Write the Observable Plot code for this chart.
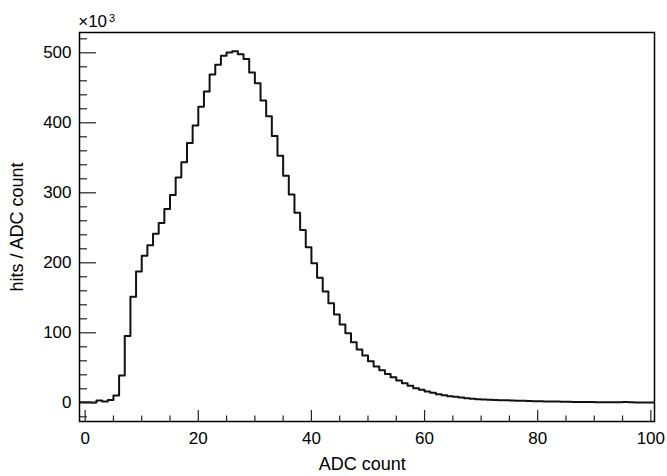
<!DOCTYPE html>
<html>
<head>
<meta charset="utf-8">
<script src="https://cdn.jsdelivr.net/npm/d3@7"></script>
<script src="https://cdn.jsdelivr.net/npm/@observablehq/plot@0.6"></script>
<style>
  body { margin: 0; background: #fff; }
</style>
</head>
<body>
<div id="chart"></div>
<script>
// Histogram: bins of width 1 starting at ADC count -1; values in thousands of hits
const firstBinEdge = -1;
const binWidth = 1;
const hitsK = [
  0.8, 0.8, 0.3, 3.3, 2.0, 4.0, 10.5, 39, 95.5, 151.5,
  187.6, 210, 225, 241.4, 256.8, 276.8, 297, 322, 343.7, 371,
  396, 423, 444.7, 469, 483, 495.7, 500.4, 502.3, 498, 491,
  472, 456.6, 432, 409.4, 381, 352.8, 324.3, 297.6, 271.5, 247,
  222.3, 199.4, 178.6, 159, 142.3, 126.1, 111.9, 99.4, 86.6, 76.1,
  67.6, 59.4, 51.9, 46.5, 41.3, 36.6, 31.9, 28, 24.3, 20.9,
  18.6, 16.1, 14.3, 12.3, 10.9, 9.4, 8.6, 7.6, 6.6, 5.7,
  5.0, 4.6, 4.3, 4.0, 3.7, 3.5, 3.3, 3.0, 2.8, 2.6,
  2.4, 2.2, 2.0, 1.8, 1.7, 1.5, 1.4, 1.3, 1.2, 1.1,
  1.0, 0.9, 0.85, 0.8, 0.75, 0.7, 1.0, 0.7, 0.6, 0.6,
  0.55, 0.5
];

const xTicks = [0, 20, 40, 60, 80, 100];
const xMinorTicks = [5, 10, 15, 25, 30, 35, 45, 50, 55, 65, 70, 75, 85, 90, 95];
const yTicks = [0, 100, 200, 300, 400, 500];
const yMinorTicks = [-20, 20, 40, 60, 80, 120, 140, 160, 180, 220, 240, 260, 280,
                     320, 340, 360, 380, 420, 440, 460, 480, 520];

const xTitle = "ADC count";
const yTitle = "hits / ADC count";
const exponentBase = "×10";
const exponent = "3";

// Build step points (left edge of each bin, plus closing edge)
const points = hitsK.map((v, i) => ({x: firstBinEdge + i * binWidth, y: v}));
points.push({x: firstBinEdge + hitsK.length * binWidth, y: hitsK[hitsK.length - 1]});

const W = 667, H = 476;
const mL = 79, mR = 13, mT = 32, mB = 55;
const frameW = W - mL - mR, frameH = H - mT - mB;

const chart = Plot.plot({
  width: W,
  height: H,
  marginLeft: mL,
  marginRight: mR,
  marginTop: mT,
  marginBottom: mB,
  style: {fontFamily: "'Liberation Sans', Arial, Helvetica, sans-serif", fontSize: "17px", color: "black", background: "white"},
  x: {domain: [-1, 100.65]},
  y: {domain: [-26.7, 529]},
  marks: [
    Plot.line(points, {x: "x", y: "y", curve: "step-after", stroke: "#111", strokeWidth: 2, clip: true}),
    Plot.tickY(yTicks, {y: d => d, insetRight: frameW - 17, stroke: "#222", strokeWidth: 1.2}),
    Plot.tickY(yMinorTicks, {y: d => d, insetRight: frameW - 8, stroke: "#222", strokeWidth: 1.2}),
    Plot.tickX(xTicks, {x: d => d, insetTop: frameH - 11, stroke: "#222", strokeWidth: 1.2}),
    Plot.tickX(xMinorTicks, {x: d => d, insetTop: frameH - 5.5, stroke: "#222", strokeWidth: 1.2}),
    Plot.axisX(xTicks, {tickSize: 0, tickPadding: 10, fontSize: 17, label: null}),
    Plot.axisY(yTicks, {tickSize: 0, tickPadding: 8, fontSize: 17, label: null}),
    Plot.frame({stroke: "black", strokeWidth: 1.5}),
    Plot.text([xTitle], {frameAnchor: "bottom", textAnchor: "middle", lineAnchor: "middle", dx: -4.8, dy: 42.5, fontSize: 18, fill: "black"}),
    Plot.text([yTitle], {frameAnchor: "left", textAnchor: "middle", lineAnchor: "middle", rotate: -90, dx: -61.8, dy: 0, fontSize: 18, fill: "black"}),
    Plot.text([exponentBase], {frameAnchor: "top-left", textAnchor: "start", lineAnchor: "middle", dx: -1.3, dy: -10.9, fontSize: 17, fill: "black"}),
    Plot.text([exponent], {frameAnchor: "top-left", textAnchor: "start", lineAnchor: "middle", dx: 29.5, dy: -13.8, fontSize: 11, fill: "black"})
  ]
});

document.getElementById("chart").appendChild(chart);
</script>
</body>
</html>
